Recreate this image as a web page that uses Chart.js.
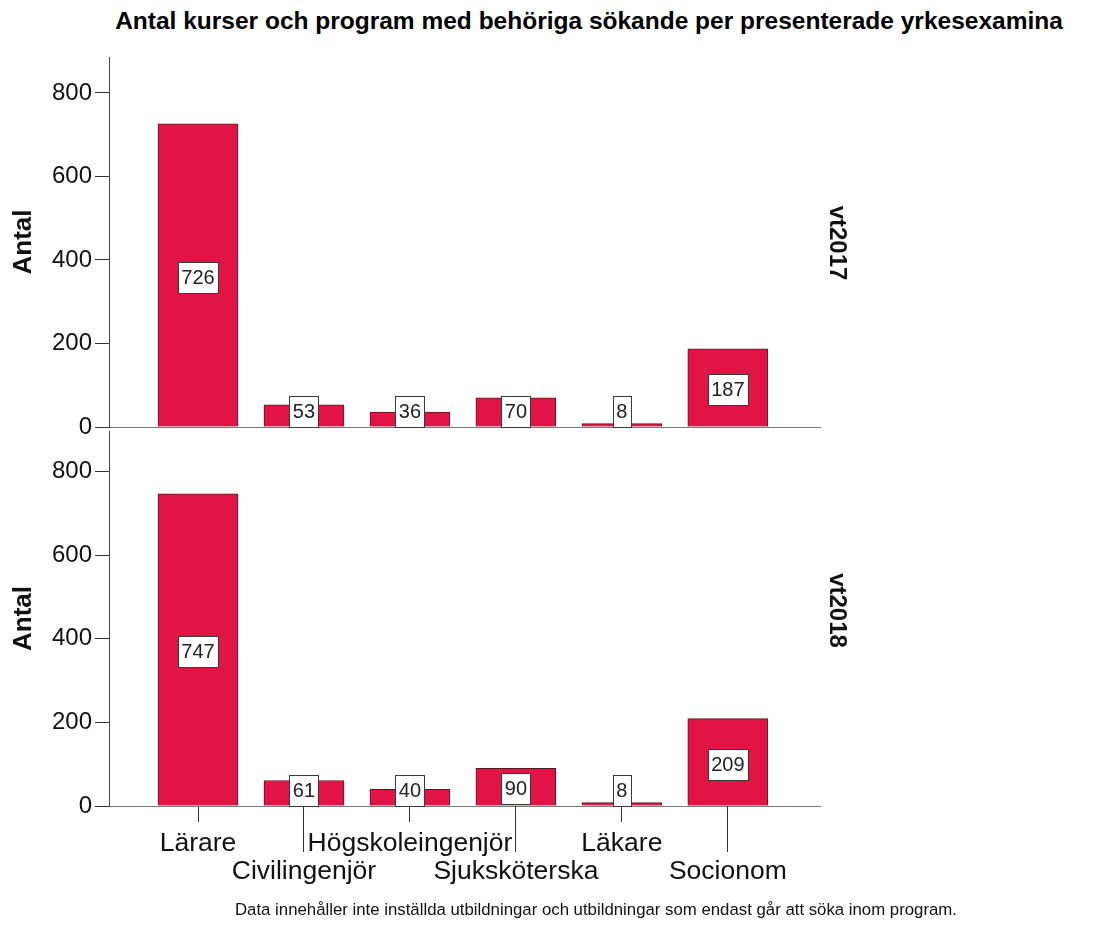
<!DOCTYPE html>
<html>
<head>
<meta charset="utf-8">
<script src="https://cdn.jsdelivr.net/npm/chart.js@4.4.1/dist/chart.umd.min.js"></script>
<style>
  body { margin: 0; background: #fff; }
  #wrap { position: relative; width: 1095px; height: 928px; overflow: hidden; }
  canvas { position: absolute; left: 0; }
  #c1 { top: 0; }
  #c2 { top: 400px; }
  .txt { position: absolute; left: 0; text-align: center; color: #000; font-family: "Liberation Sans", Arial, sans-serif; white-space: nowrap; }
  #title { top: 7px; width: 1178px; font-size: 24.5px; line-height: 28px; font-weight: bold; }
  #note { top: 900px; width: 1192px; font-size: 16.8px; line-height: 19px; color: #111; }
</style>
</head>
<body>
<div id="wrap">
  <div id="title" class="txt">Antal kurser och program med behöriga sökande per presenterade yrkesexamina</div>
  <canvas id="c1" width="1095" height="445"></canvas>
  <canvas id="c2" width="1095" height="528"></canvas>
  <div id="note" class="txt">Data innehåller inte inställda utbildningar och utbildningar som endast går att söka inom program.</div>
</div>
<script>
  // --- Data ---
  const categories = ['Lärare', 'Civilingenjör', 'Högskoleingenjör', 'Sjuksköterska', 'Läkare', 'Socionom'];
  const vt2017 = [726, 53, 36, 70, 8, 187];
  const vt2018 = [747, 61, 40, 90, 8, 209];
  const yTicks = [0, 200, 400, 600, 800];

  // --- Style ---
  const FONT = '"Liberation Sans", Arial, sans-serif';
  const BAR_FILL = 'rgb(226, 20, 70)';
  const BAR_EDGE = 'rgb(95, 20, 38)';

  // category axis as a linear scale so the bars sit where the original puts them
  const xMin = -0.84, xMax = 5.87;

  /**
   * White value boxes drawn in the middle of each bar (kept above the baseline).
   */
  const valueBoxes = {
    id: 'valueBoxes',
    afterDatasetsDraw(chart) {
      const ctx = chart.ctx;
      const meta = chart.getDatasetMeta(0);
      const values = chart.data.datasets[0].data;
      ctx.save();
      ctx.font = '20px ' + FONT;
      ctx.textAlign = 'center';
      ctx.textBaseline = 'middle';
      meta.data.forEach((bar, i) => {
        const txt = String(values[i].y);
        const w = Math.round(ctx.measureText(txt).width) + 7;
        const h = 31;
        let cy = (bar.y + bar.base) / 2 + 2;
        if (cy + h / 2 > bar.base) cy = bar.base - h / 2;
        const x0 = Math.round(bar.x - w / 2) + 0.5;
        const y0 = Math.round(cy - h / 2) + 0.5;
        ctx.fillStyle = '#fff';
        ctx.fillRect(x0, y0, w, h);
        ctx.strokeStyle = '#3a3a3a';
        ctx.lineWidth = 1;
        ctx.strokeRect(x0, y0, w, h);
        ctx.fillStyle = '#222';
        ctx.fillText(txt, bar.x, cy + 1);
      });
      ctx.restore();
    }
  };

  /**
   * Longer tick lines under the staggered (second row) category labels.
   */
  const longTicks = {
    id: 'longTicks',
    afterDraw(chart, args, opts) {
      if (!opts.on) return;
      const ctx = chart.ctx;
      const xs = chart.scales.x;
      ctx.save();
      ctx.strokeStyle = '#333';
      ctx.lineWidth = 1;
      categories.forEach((c, i) => {
        if (i % 2 === 0) return;
        // same pixel snapping as the library's own tick marks
        const px = Math.round(xs.getPixelForValue(i) - 0.5) + 0.5;
        ctx.beginPath();
        ctx.moveTo(px, xs.top);
        ctx.lineTo(px, xs.top + 46);
        ctx.stroke();
      });
      ctx.restore();
    }
  };

  /**
   * Panel label on the right, rotated to read top to bottom.
   */
  const sideLabel = {
    id: 'sideLabel',
    afterDraw(chart, args, opts) {
      const { ctx, chartArea } = chart;
      ctx.save();
      ctx.translate(opts.x, (chartArea.top + chartArea.bottom) / 2 + opts.dy);
      ctx.rotate(Math.PI / 2);
      ctx.font = 'bold 24px ' + FONT;
      ctx.fillStyle = '#111';
      ctx.textAlign = 'center';
      ctx.textBaseline = 'middle';
      ctx.fillText(opts.text, 0, 0);
      ctx.restore();
    }
  };

  function panelOptions(cfg) {
    return {
      responsive: false,
      animation: false,
      layout: { padding: { left: 0, right: 275, top: cfg.padTop, bottom: cfg.padBottom } },
      plugins: {
        legend: { display: false },
        tooltip: { enabled: false },
        sideLabel: { text: cfg.side, x: 837, dy: cfg.sideDy },
        longTicks: { on: cfg.showLabels }
      },
      scales: {
        x: {
          type: 'linear',
          min: xMin,
          max: xMax,
          offset: false,
          afterBuildTicks: s => { s.ticks = categories.map((c, i) => ({ value: i })); },
          afterFit: s => { s.height = cfg.xHeight; s.paddingLeft = 0; s.paddingRight = 0; },
          border: { display: true, color: '#7a7a7a', width: 1 },
          grid: { display: cfg.showLabels, offset: false, drawOnChartArea: false, tickLength: 16, tickColor: '#333' },
          ticks: {
            display: cfg.showLabels,
            autoSkip: false,
            maxRotation: 0,
            padding: 7,
            color: '#111',
            font: { size: 26.5, family: FONT, lineHeight: 1.08 },
            callback: (v, i) => (i % 2 ? ['', categories[i]] : [categories[i]])
          }
        },
        y: {
          min: 0,
          max: cfg.yMax,
          afterBuildTicks: s => { s.ticks = yTicks.map(v => ({ value: v })); },
          afterFit: s => { s.width = 109; s.paddingTop = 0; s.paddingBottom = 0; },
          border: { display: true, color: '#4a4a4a', width: 1 },
          grid: { drawOnChartArea: false, tickLength: 14, tickColor: '#333' },
          ticks: { padding: 3, color: '#111', font: { size: 24, family: FONT } },
          title: {
            display: true,
            text: 'Antal',
            color: '#111',
            font: { size: 26, weight: 'bold', family: FONT },
            padding: { top: 8, bottom: 0 }
          }
        }
      }
    };
  }

  function barData(values) {
    return {
      datasets: [{
        data: values.map((v, i) => ({ x: i, y: v })),
        backgroundColor: BAR_FILL,
        borderColor: BAR_EDGE,
        borderWidth: 1,
        barThickness: 80
      }]
    };
  }

  // --- Charts ---
  new Chart(document.getElementById('c1'), {
    type: 'bar',
    data: barData(vt2017),
    options: panelOptions({ padTop: 57, padBottom: 18, xHeight: 0, showLabels: false, yMax: 886, side: 'vt2017', sideDy: 1 }),
    plugins: [valueBoxes, longTicks, sideLabel]
  });

  new Chart(document.getElementById('c2'), {
    type: 'bar',
    data: barData(vt2018),
    options: panelOptions({ padTop: 31, padBottom: 32, xHeight: 90, showLabels: true, yMax: 897, side: 'vt2018', sideDy: -8 }),
    plugins: [valueBoxes, longTicks, sideLabel]
  });
</script>
</body>
</html>
